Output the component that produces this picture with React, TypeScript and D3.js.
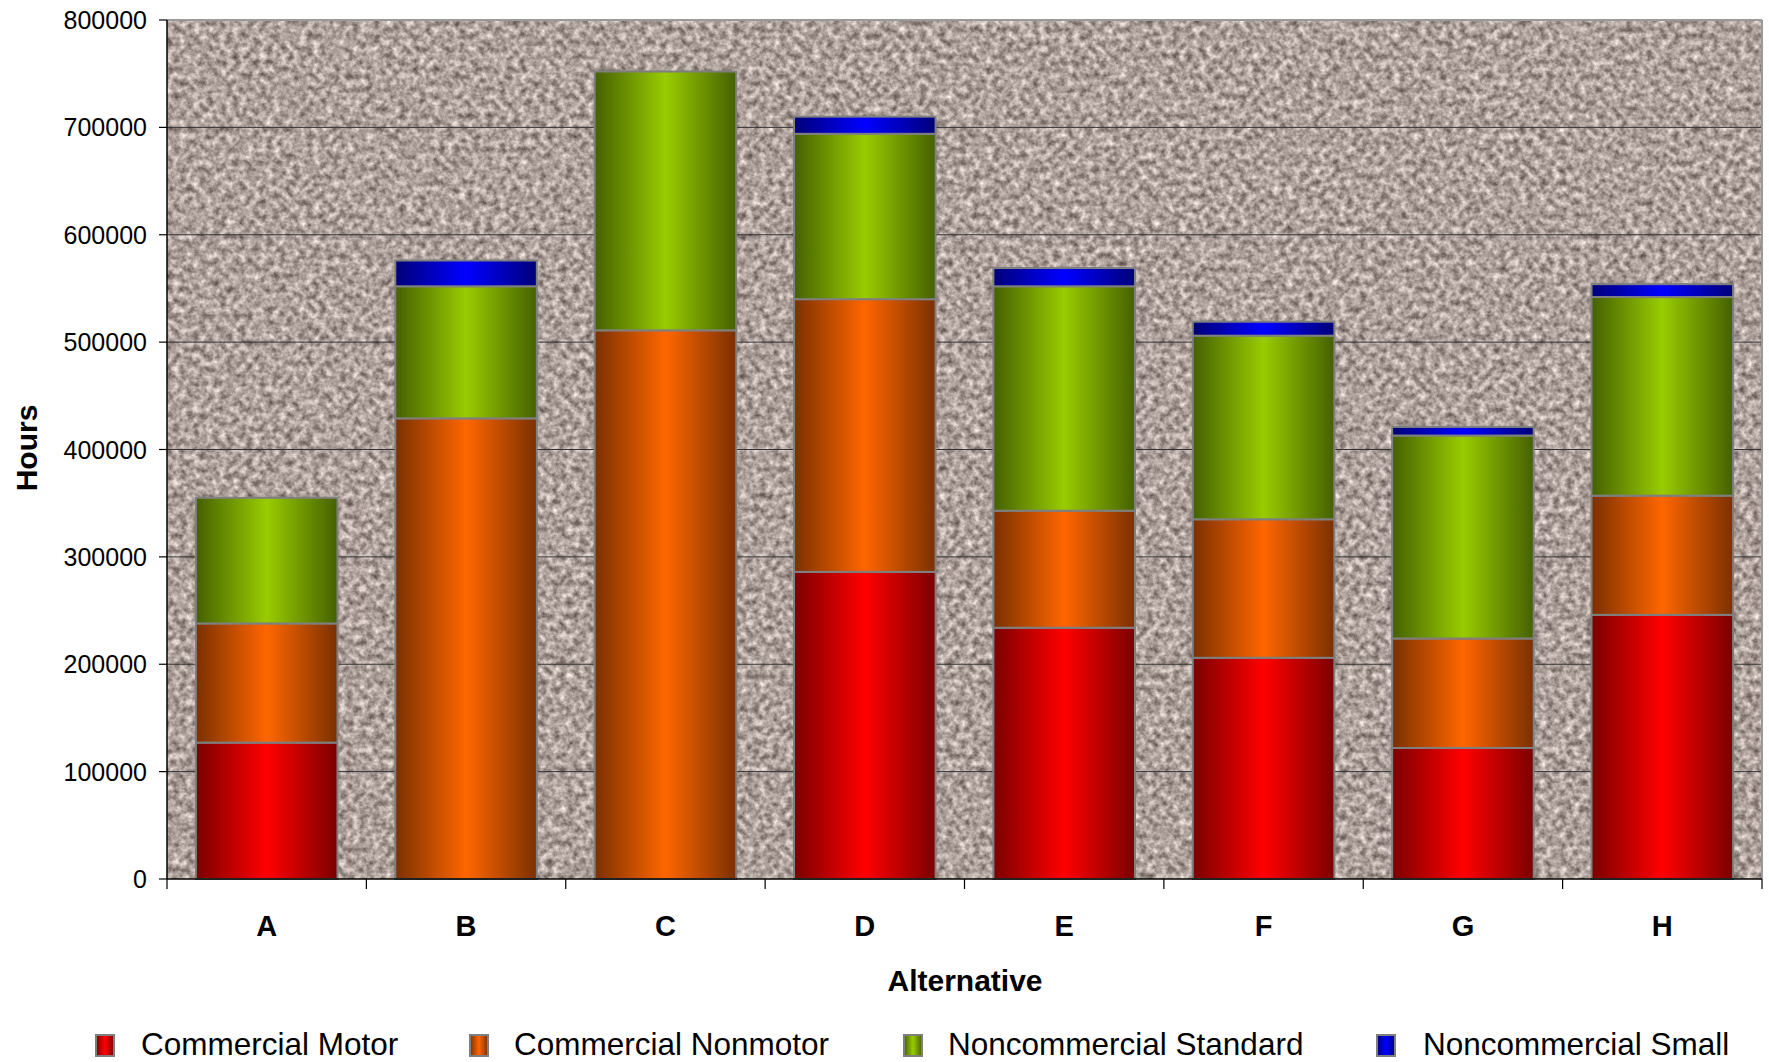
import React from "react";
import * as d3 from "d3";

const categories = ["A", "B", "C", "D", "E", "F", "G", "H"];
const commercialMotor = [127000, 0, 0, 286000, 234000, 206000, 122000, 246000];
const commercialNonmotor = [111000, 429000, 511000, 254000, 109000, 129000, 102000, 111000];
const noncommercialStandard = [117000, 123000, 241000, 154000, 209000, 171000, 189000, 185000];
const noncommercialSmall = [0, 24000, 0, 16000, 17000, 13000, 8000, 12000];
const seriesNames = ["Commercial Motor", "Commercial Nonmotor", "Noncommercial Standard", "Noncommercial Small"];
const yTicks = [0, 100000, 200000, 300000, 400000, 500000, 600000, 700000, 800000];

const seriesColors = [
  { dark: "#7a0000", bright: "#ff0000" },
  { dark: "#7a3000", bright: "#ff6600" },
  { dark: "#456000", bright: "#99cc00" },
  { dark: "#000078", bright: "#0000ff" },
];

const W = 1769;
const H = 1062;
const M = { left: 167, top: 20, right: 1762, bottom: 879 };
const FONT = "'Liberation Sans', Arial, Helvetica, sans-serif";

export default function App() {
  const x = d3
    .scaleBand<string>()
    .domain(categories)
    .range([M.left, M.right])
    .paddingInner(0.29)
    .paddingOuter(0.145);
  const y = d3.scaleLinear().domain([0, 800000]).range([M.bottom, M.top]);

  const table = categories.map((c, i) => ({
    cat: c,
    s0: commercialMotor[i],
    s1: commercialNonmotor[i],
    s2: noncommercialStandard[i],
    s3: noncommercialSmall[i],
  }));
  const stack = d3.stack<any>().keys(["s0", "s1", "s2", "s3"]);
  const layers = stack(table);
  const step = x.step();

  const legendItems = [
    { sq: 96, tx: 141 },
    { sq: 470, tx: 514 },
    { sq: 904, tx: 948 },
    { sq: 1377, tx: 1423 },
  ];

  return (
    <div style={{ position: "absolute", left: 0, top: 0 }}>
      <svg width={W} height={H} style={{ display: "block", background: "#fff" }}>
        <defs>
          <filter id="granite" x={M.left} y={M.top} width={M.right - M.left} height={M.bottom - M.top} filterUnits="userSpaceOnUse" colorInterpolationFilters="sRGB">
            <feTurbulence type="fractalNoise" baseFrequency="0.15" numOctaves={3} seed={7} result="n" />
            <feColorMatrix
              in="n"
              type="matrix"
              values="0.8 0 0 0 0.28  0.8 0 0 0 0.23  0.8 0 0 0 0.21  0 0 0 0 1"
            />
          </filter>
          {seriesColors.map((c, i) => (
            <linearGradient key={i} id={`g${i}`} x1="0" x2="1" y1="0" y2="0">
              <stop offset="0" stopColor={c.dark} />
              <stop offset="0.5" stopColor={c.bright} />
              <stop offset="1" stopColor={c.dark} />
            </linearGradient>
          ))}
        </defs>

        {/* plot background */}
        <rect x={M.left} y={M.top} width={M.right - M.left} height={M.bottom - M.top} fill="#aa9e97" />
        <rect x={M.left} y={M.top} width={M.right - M.left} height={M.bottom - M.top} filter="url(#granite)" />

        {/* gridlines */}
        {yTicks.slice(1, -1).map((t) => (
          <line key={t} x1={M.left} x2={M.right} y1={y(t)} y2={y(t)} stroke="#333" strokeWidth={1} />
        ))}
        {/* top and right border */}
        <line x1={M.left} x2={M.right} y1={M.top} y2={M.top} stroke="#9a9a9a" strokeWidth={2} />
        <line x1={M.right} x2={M.right} y1={M.top} y2={M.bottom} stroke="#9a9a9a" strokeWidth={2} />

        {/* bars */}
        {layers.map((layer, si) =>
          layer.map((d, ci) => {
            const v = d[1] - d[0];
            if (v <= 0) return null;
            const cat = categories[ci];
            return (
              <rect
                key={`${si}-${ci}`}
                x={x(cat)!}
                y={y(d[1])}
                width={x.bandwidth()}
                height={y(d[0]) - y(d[1])}
                fill={`url(#g${si})`}
                stroke="#7f7f7f"
                strokeWidth={2}
              />
            );
          })
        )}

        {/* y axis */}
        <line x1={M.left} x2={M.left} y1={M.top} y2={M.bottom} stroke="#000" strokeWidth={1.5} />
        {yTicks.map((t) => (
          <g key={t}>
            <line x1={M.left - 8} x2={M.left} y1={y(t)} y2={y(t)} stroke="#000" strokeWidth={1.2} />
            <text x={147} y={y(t)} dy="0.36em" textAnchor="end" fontFamily={FONT} fontSize={25} fill="#000">
              {t}
            </text>
          </g>
        ))}

        {/* x axis */}
        <line x1={M.left} x2={M.right} y1={M.bottom} y2={M.bottom} stroke="#000" strokeWidth={1.5} />
        {d3.range(categories.length + 1).map((i) => {
          const xx = M.left + i * step;
          return <line key={i} x1={xx} x2={xx} y1={M.bottom} y2={M.bottom + 10} stroke="#000" strokeWidth={1.2} />;
        })}
        {categories.map((c) => (
          <text
            key={c}
            x={x(c)! + x.bandwidth() / 2}
            y={936}
            textAnchor="middle"
            fontFamily={FONT}
            fontWeight="bold"
            fontSize={29}
            fill="#000"
          >
            {c}
          </text>
        ))}

        {/* axis titles */}
        <text x={965} y={991} textAnchor="middle" fontFamily={FONT} fontWeight="bold" fontSize={30} fill="#000">
          Alternative
        </text>
        <text
          transform="translate(37,448) rotate(-90)"
          textAnchor="middle"
          fontFamily={FONT}
          fontWeight="bold"
          fontSize={30}
          fill="#000"
        >
          Hours
        </text>

        {/* legend */}
        {seriesNames.map((name, i) => (
          <g key={name}>
            <rect x={legendItems[i].sq} y={1035} width={18} height={21} fill={`url(#g${i})`} stroke="#7f7f7f" strokeWidth={2} />
            <text x={legendItems[i].tx} y={1055} fontFamily={FONT} fontSize={31.5} fill="#000">
              {name}
            </text>
          </g>
        ))}
      </svg>
    </div>
  );
}
